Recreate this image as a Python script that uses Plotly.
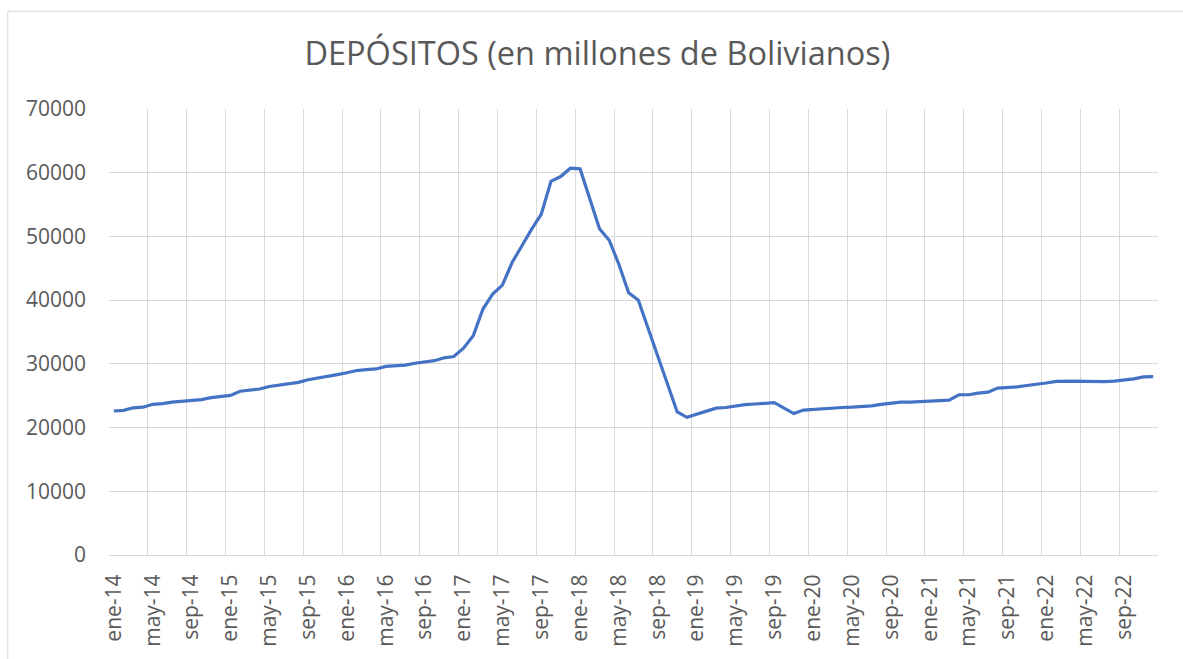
import plotly.graph_objects as go

month_abbr = ["ene", "feb", "mar", "abr", "may", "jun", "jul", "ago", "sep", "oct", "nov", "dic"]
years = list(range(14, 23))
months = [f"{m}-{y:02d}" for y in years for m in month_abbr]

depositos = [
    22600, 22700, 23100, 23200, 23650, 23750, 24000, 24150, 24350, 24400, 24700, 24900,
    25050, 25700, 25850, 26050, 26450, 26650, 26800, 27100, 27500, 27750, 27950, 28300,
    28600, 28950, 29100, 29200, 29600, 29750, 29800, 30100, 30350, 30500, 30950, 31150,
    32450, 34400, 38600, 40950, 42350, 45900, 48500, 51100, 53450, 58650, 59400, 60700,
    60600, 55800, 51200, 49400, 45600, 41150, 40000, 35600, 31300, 26750, 22450, 21600,
    22050, 22550, 23050, 23150, 23400, 23600, 23700, 23800, 23900, 23050, 22200, 22750,
    22850, 23050, 23100, 23150, 23200, 23250, 23400, 23650, 23850, 24000, 24000, 24050,
    24100, 24150, 24300, 25150, 25150, 25400, 25550, 26200, 26250, 26400, 26600, 26750,
    27000, 27250, 27300, 27300, 27250, 27200, 27200, 27300, 27450, 27650, 27950, 28000,
]

title_text = "DEPÓSITOS (en millones de Bolivianos)"
label_step = 4

idx = list(range(len(months)))
tick_idx = idx[::label_step]
tick_txt = [months[i] for i in tick_idx]
boundaries = [i - 0.5 for i in range(0, len(months) + 1, label_step)]

grid_c = "#d9d9d9"
text_c = "#595959"
font_f = "Open Sans, Liberation Sans, sans-serif"

fig = go.Figure()
fig.add_trace(go.Scatter(
    x=idx, y=depositos, mode="lines",
    line=dict(color="#4472C4", width=3.2),
    hoverinfo="x+y", showlegend=False,
))

fig.update_layout(
    width=1183, height=659,
    paper_bgcolor="white", plot_bgcolor="white",
    margin=dict(l=109, r=25, t=109, b=102),
    title=dict(text=title_text, x=0.505, xanchor="center", xref="container",
               y=0.918, yanchor="middle", yref="container",
               font=dict(family=font_f, size=32.5, color=text_c)),
    font=dict(family=font_f, color=text_c),
    shapes=[dict(type="rect", xref="paper", yref="paper",
                 x0=-0.0965, x1=1.2, y0=-0.4, y1=1.219,
                 line=dict(color="#d9d9d9", width=1), fillcolor="rgba(0,0,0,0)",
                 layer="below")],
)

fig.update_xaxes(
    range=[-0.5, len(months) - 0.5],
    tickmode="array", tickvals=tick_idx, ticktext=tick_txt,
    tickangle=-90, ticks="", showgrid=False, zeroline=False,
    showline=True, linecolor=grid_c, linewidth=1,
    tickfont=dict(family=font_f, size=21, color=text_c),
    ticklabelstandoff=10,
    minor=dict(tickmode="array", tickvals=boundaries, showgrid=True,
               gridcolor=grid_c, gridwidth=1, ticks=""),
)
fig.update_yaxes(
    range=[0, 70000], dtick=10000, tickformat="d",
    showgrid=True, gridcolor=grid_c, gridwidth=1,
    zeroline=False, showline=False, ticks="",
    tickfont=dict(family=font_f, size=21, color=text_c),
    ticklabelstandoff=22,
)

fig.write_html(
    "out.html",
    config={"displayModeBar": False},
    post_script="document.body.style.margin='0';document.body.style.overflow='hidden';",
)
